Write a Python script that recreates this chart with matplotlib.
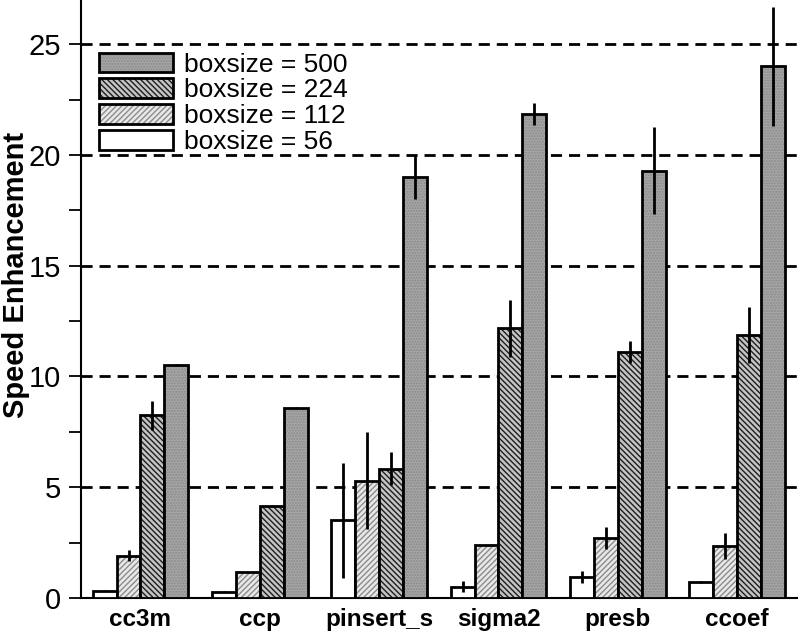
import numpy as np
import matplotlib
matplotlib.use("Agg")
import matplotlib.pyplot as plt
from matplotlib.ticker import MultipleLocator

plt.rcParams['font.family'] = ['Liberation Sans', 'DejaVu Sans']
plt.rcParams['hatch.linewidth'] = 1.0

benchmarks = ["cc3m", "ccp", "pinsert_s", "sigma2", "presb", "ccoef"]
boxsizes = ["56", "112", "224", "500"]

# speed enhancement per boxsize, one value per benchmark
speed_56 = [0.33, 0.27, 3.5, 0.5, 0.95, 0.72]
speed_112 = [1.9, 1.16, 5.3, 2.37, 2.7, 2.35]
speed_224 = [8.25, 4.15, 5.83, 12.17, 11.1, 11.87]
speed_500 = [10.5, 8.57, 19.0, 21.85, 19.3, 24.0]

err_56 = [0.03, 0.02, 2.6, 0.25, 0.27, 0.05]
err_112 = [0.25, 0.03, 2.2, 0.03, 0.5, 0.6]
err_224 = [0.65, 0.03, 0.75, 1.3, 0.5, 1.27]
err_500 = [0.05, 0.03, 1.0, 0.5, 1.95, 2.7]

speeds = [speed_56, speed_112, speed_224, speed_500]
errs = [err_56, err_112, err_224, err_500]

styles = [
    dict(facecolor="white", hatch=None, hatchcolor="black"),
    dict(facecolor="#e8e8e8", hatch="//////", hatchcolor="#8c8c8c"),
    dict(facecolor="#c4c4c4", hatch="\\\\\\\\\\\\", hatchcolor="#1e1e1e"),
    dict(facecolor="#a6a6a6", hatch="......", hatchcolor="#8a8a8a"),
]

fig = plt.figure(figsize=(8.0, 6.34), dpi=100)
ax = fig.add_axes([0.101, 0.057, 0.895, 0.943])

x = np.arange(len(benchmarks))
width = 0.2
offsets = [-1.5, -0.5, 0.5, 1.5]

handles = []
for i in range(4):
    st = styles[i]
    bars = ax.bar(x + offsets[i] * width, speeds[i], width,
                  facecolor=st["facecolor"], edgecolor="black",
                  linewidth=2, hatch=st["hatch"], zorder=3,
                  label="boxsize = " + boxsizes[i])
    if st["hatch"]:
        for b in bars:
            b._hatch_color = matplotlib.colors.to_rgba(st["hatchcolor"])
    ax.errorbar(x + offsets[i] * width, speeds[i], yerr=errs[i], fmt="none",
                ecolor="black", elinewidth=2, capsize=0, zorder=4)
    handles.append(bars)

ax.set_xlim(-0.5, 5.5)
ax.set_ylim(0, 27)
ax.yaxis.set_major_locator(MultipleLocator(5))
ax.yaxis.set_minor_locator(MultipleLocator(2.5))
for yv in [5, 10, 15, 20, 25]:
    ax.axhline(yv, color="black", linestyle=(0, (4, 2.5)), linewidth=2, zorder=1)

ax.set_xticks(x)
ax.set_xticklabels(benchmarks, fontsize=17.5, fontweight="bold")
ax.tick_params(axis="x", length=0, pad=7)
ax.tick_params(axis="y", which="both", direction="out", length=9, width=1.3,
               labelsize=21, pad=5)
ax.set_ylabel("Speed Enhancement", fontsize=21, fontweight="bold")
ax.yaxis.set_label_coords(-0.071, 0.54)

for side in ["top", "right"]:
    ax.spines[side].set_visible(False)
for side in ["left", "bottom"]:
    ax.spines[side].set_linewidth(1.5)

leg = ax.legend(handles[::-1], ["boxsize = " + b for b in boxsizes[::-1]],
                loc="upper left", bbox_to_anchor=(0.025, 0.912), frameon=False,
                fontsize=19, handlelength=2.8, handleheight=0.78,
                labelspacing=0.06, handletextpad=0.42, borderaxespad=0,
                borderpad=0)

fig.savefig("out.png", dpi=100)
